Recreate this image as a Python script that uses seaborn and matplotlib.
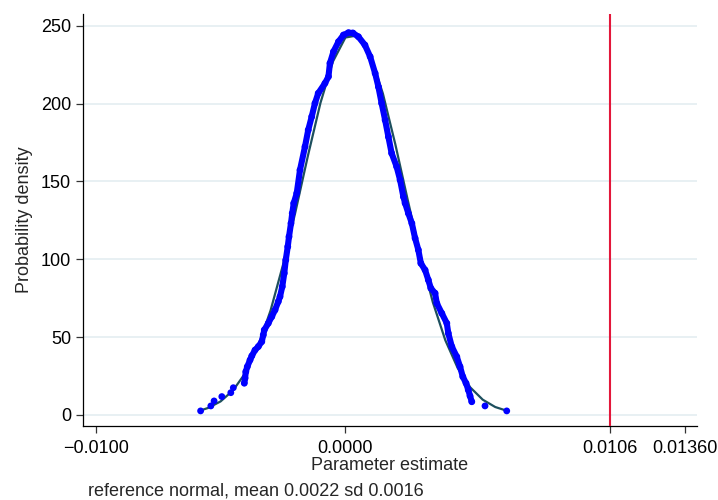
import matplotlib
matplotlib.use("Agg")
import matplotlib.pyplot as plt
import seaborn as sns
import pandas as pd

# ---- data ----
kde_x = [-0.00580, -0.00539, -0.00526, -0.00495, -0.00459, -0.00449, -0.00405, -0.00402,
         -0.00399, -0.00393, -0.00382, -0.00375, -0.00362, -0.00349, -0.00335, -0.00329,
         -0.00325, -0.00309, -0.00295, -0.00282, -0.00269, -0.00262, -0.00253, -0.00245,
         -0.00239, -0.00231, -0.00226, -0.00218, -0.00213, -0.00207, -0.00195, -0.00182,
         -0.00162, -0.00149, -0.00135, -0.00122, -0.00109, -0.00082, -0.00068, -0.00062,
         -0.00048, -0.00028, -0.00008, 0.00012, 0.00030, 0.00052, 0.00078, 0.00099,
         0.00119, 0.00132, 0.00145, 0.00159, 0.00172, 0.00185, 0.00205, 0.00219,
         0.00232, 0.00239, 0.00252, 0.00266, 0.00279, 0.00292, 0.00302, 0.00319,
         0.00332, 0.00342, 0.00359, 0.00366, 0.00386, 0.00406, 0.00412, 0.00426,
         0.00446, 0.00459, 0.00470, 0.00483, 0.00492, 0.00499, 0.00506, 0.00559,
         0.00646]
kde_y = [2.6, 5.8, 9.0, 11.8, 14.3, 17.5, 20.4, 23.6,
         27.8, 31.0, 35.3, 37.9, 41.7, 43.9, 47.1, 51.4,
         54.6, 58.9, 63.1, 67.4, 72.8, 76.0, 82.4, 91.0,
         99.5, 108.1, 114.5, 123.1, 129.5, 136.0, 142.4, 157.3,
         172.3, 183.0, 191.6, 200.2, 206.6, 213.0, 217.3, 225.9,
         233.3, 239.7, 244.0, 245.5, 245.3, 242.9, 237.6, 230.1,
         219.4, 210.8, 200.2, 189.4, 178.7, 168.1, 159.5, 150.9,
         140.2, 136.0, 129.5, 123.1, 113.5, 106.0, 97.4, 93.1,
         86.7, 81.4, 78.2, 71.7, 65.3, 58.9, 52.5, 43.9,
         37.4, 31.0, 24.6, 20.4, 16.1, 12.2, 8.5, 5.8,
         2.6]

norm_x = [-0.0058, -0.0055, -0.0050, -0.0045, -0.0040, -0.0035, -0.0030, -0.0025,
          -0.0020, -0.0015, -0.0010, -0.0005, 0.0000, 0.0005, 0.0010, 0.0015,
          0.0020, 0.0025, 0.0030, 0.0035, 0.0040, 0.0045, 0.0050, 0.0055,
          0.0060, 0.0065]
norm_y = [2.9, 4.5, 8.7, 15.8, 27.1, 44.0, 67.0, 96.4,
          130.6, 166.6, 200.4, 227.0, 242.4, 243.8, 231.1, 206.4,
          173.7, 137.7, 102.9, 72.4, 48.0, 30.0, 17.7, 9.8,
          5.1, 2.5]

observed_value = 0.0106
x_ticks = [-0.0100, 0.0000, 0.0106, 0.0136]
x_tick_labels = ["\u22120.0100", "0.0000", "0.0106", "0.01360"]
y_ticks = [0, 50, 100, 150, 200, 250]
y_tick_labels = ["0", "50", "100", "150", "200", "250"]
x_label = "Parameter estimate"
y_label = "Probability density"
note_text = "reference normal, mean 0.0022 sd 0.0016"

kde_df = pd.DataFrame({"x": kde_x, "y": kde_y})
norm_df = pd.DataFrame({"x": norm_x, "y": norm_y})

# ---- style ----
sns.set_theme(style="white")
plt.rcParams["font.family"] = ["Liberation Sans", "DejaVu Sans"]

W, H = 718, 500
fig = plt.figure(figsize=(W / 100, H / 100), dpi=100)
ax_l, ax_r, ax_b, ax_t = 83, 697, 425.7, 14
ax = fig.add_axes([ax_l / W, 1 - ax_b / H, (ax_r - ax_l) / W, (ax_b - ax_t) / H])

ax.set_xlim(-0.01051, 0.01408)
ax.set_ylim(-6.9, 257.5)

for yv in y_ticks:
    ax.axhline(yv, color="#e6eff2", lw=1.3, zorder=0)

# reference normal curve
sns.lineplot(data=norm_df, x="x", y="y", ax=ax, color="#1d4f5e", lw=1.6,
             sort=False, zorder=2, estimator=None)

# kernel density points (dense band + dots)
dense = kde_df.iloc[6:79]
sns.lineplot(data=dense, x="x", y="y", ax=ax, color="#0000ff", lw=4.4,
             sort=False, zorder=3, estimator=None)
sns.scatterplot(data=kde_df, x="x", y="y", ax=ax, color="#0000ff", s=24,
                edgecolor="none", zorder=4)

ax.axvline(observed_value, color="#e3173a", lw=1.5, zorder=5)

ax.set_xticks(x_ticks)
ax.set_xticklabels(x_tick_labels)
ax.set_yticks(y_ticks)
ax.set_yticklabels(y_tick_labels)
ax.tick_params(axis="both", direction="out", length=5, width=0.9, color="#333333",
               labelsize=13, labelcolor="black", bottom=True, left=True)
ax.tick_params(axis="x", pad=5.5)
ax.tick_params(axis="y", pad=3.5)

for s in ["top", "right"]:
    ax.spines[s].set_visible(False)
for s in ["left", "bottom"]:
    ax.spines[s].set_color("black")
    ax.spines[s].set_linewidth(0.9)

ax.set_xlabel(x_label, fontsize=13)
ax.set_ylabel(y_label, fontsize=13)
ax.xaxis.label.set_va("center")
ax.yaxis.label.set_va("center")
ax.xaxis.set_label_coords(0.5, -(465 - ax_b) / (ax_b - ax_t))
ax.yaxis.set_label_coords((25 - ax_l) / (ax_r - ax_l), 0.5)

fig.text(87.7 / W, 1 - 490.5 / H, note_text, fontsize=13, ha="left", va="center")

fig.savefig("out.png", dpi=100)
